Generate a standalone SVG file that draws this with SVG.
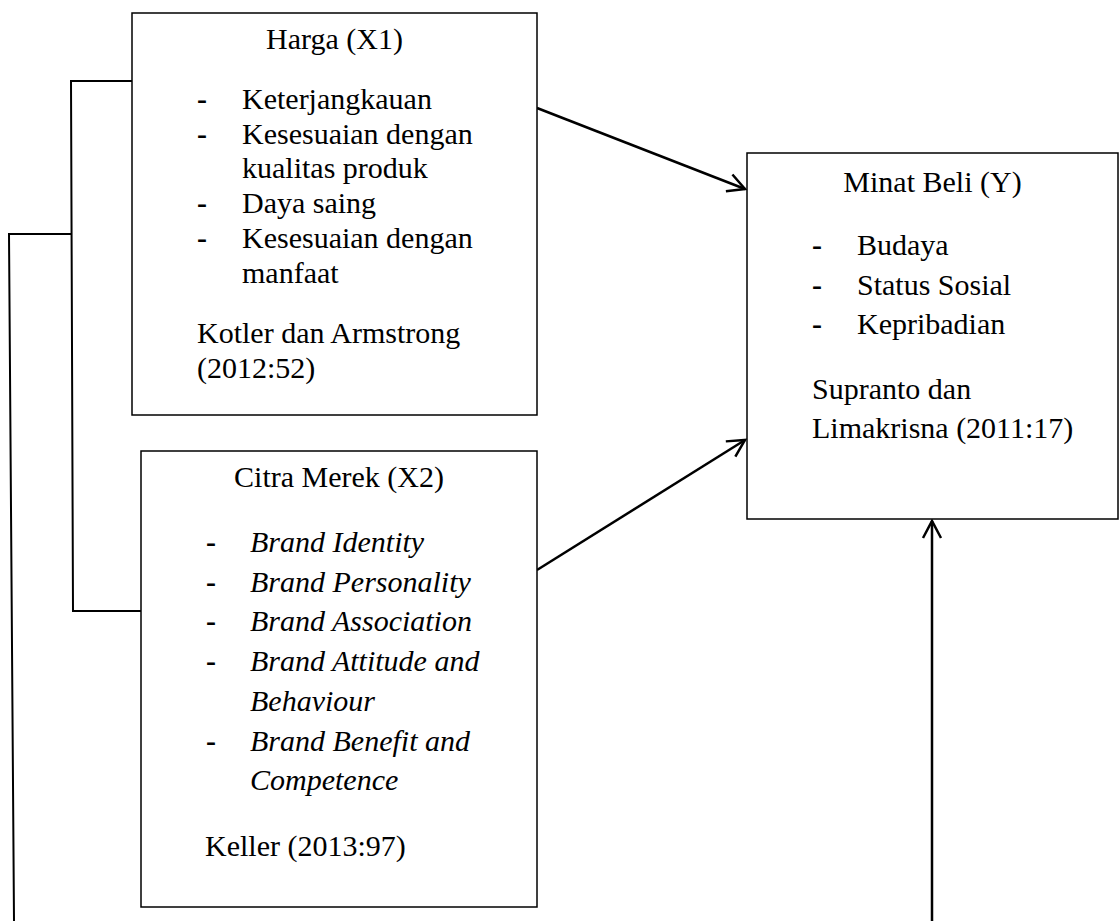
<svg xmlns="http://www.w3.org/2000/svg" width="1120" height="921" viewBox="0 0 1120 921" font-family="Liberation Serif, DejaVu Serif, serif">
  <style>
    .box { fill: #ffffff; stroke: #000000; stroke-width: 1.5; }
    .t { font-family: 'Liberation Serif', 'DejaVu Serif', serif; font-size: 30px; fill: #000000; }
    .title { text-anchor: middle; }
    .it { font-style: italic; }
    .dash { font-weight: bold; }
    .conn { fill: none; stroke: #000000; stroke-width: 2; }
    .arrow { fill: none; stroke: #000000; stroke-width: 2.5; marker-end: url(#open); }
  </style>
  <defs>
    <marker id="open" markerUnits="userSpaceOnUse" viewBox="-22 -12 26 24" refX="0" refY="0" markerWidth="26" markerHeight="24" orient="auto">
      <path d="M -17 -9 L 0 0 L -17 9" fill="none" stroke="#000000" stroke-width="2.5" stroke-linejoin="miter"/>
    </marker>
  </defs>
  <rect width="1120" height="921" fill="#ffffff"/>

  <g id="connectors">
    <polyline class="conn" points="132,81 71,81 73,611 141,611"/>
    <polyline class="conn" points="71,234 9,234 14,921"/>
    <line class="arrow" x1="537" y1="108" x2="745" y2="189"/>
    <line class="arrow" x1="537" y1="570" x2="745" y2="440"/>
    <line class="arrow" x1="932" y1="921" x2="932" y2="521"/>
  </g>

  <g id="node-harga">
    <rect class="box" x="132" y="13" width="405" height="402"/>
    <text class="t title" x="334.5" y="49">Harga (X1)</text>
    <text class="t dash" x="197" y="109">-</text>
    <text class="t" x="242" y="109">Keterjangkauan</text>
    <text class="t dash" x="197" y="144">-</text>
    <text class="t" x="242" y="144">Kesesuaian dengan</text>
    <text class="t" x="242" y="178">kualitas produk</text>
    <text class="t dash" x="197" y="213">-</text>
    <text class="t" x="242" y="213">Daya saing</text>
    <text class="t dash" x="197" y="248">-</text>
    <text class="t" x="242" y="248">Kesesuaian dengan</text>
    <text class="t" x="242" y="283">manfaat</text>
    <text class="t" x="197" y="343">Kotler dan Armstrong</text>
    <text class="t" x="197" y="378">(2012:52)</text>
  </g>

  <g id="node-citra">
    <rect class="box" x="141" y="451" width="396" height="456"/>
    <text class="t title" x="339" y="487">Citra Merek (X2)</text>
    <text class="t dash" x="206" y="552">-</text>
    <text class="t it" x="250" y="552">Brand Identity</text>
    <text class="t dash" x="206" y="592">-</text>
    <text class="t it" x="250" y="592">Brand Personality</text>
    <text class="t dash" x="206" y="631">-</text>
    <text class="t it" x="250" y="631">Brand Association</text>
    <text class="t dash" x="206" y="671">-</text>
    <text class="t it" x="250" y="671">Brand Attitude and</text>
    <text class="t it" x="250" y="711">Behaviour</text>
    <text class="t dash" x="206" y="751">-</text>
    <text class="t it" x="250" y="751">Brand Benefit and</text>
    <text class="t it" x="250" y="790">Competence</text>
    <text class="t" x="205" y="856">Keller (2013:97)</text>
  </g>

  <g id="node-minat">
    <rect class="box" x="747" y="153" width="371" height="366"/>
    <text class="t title" x="932.5" y="192">Minat Beli (Y)</text>
    <text class="t dash" x="812" y="255">-</text>
    <text class="t" x="857" y="255">Budaya</text>
    <text class="t dash" x="812" y="295">-</text>
    <text class="t" x="857" y="295">Status Sosial</text>
    <text class="t dash" x="812" y="334">-</text>
    <text class="t" x="857" y="334">Kepribadian</text>
    <text class="t" x="812" y="399">Supranto dan</text>
    <text class="t" x="812" y="438">Limakrisna (2011:17)</text>
  </g>
</svg>
